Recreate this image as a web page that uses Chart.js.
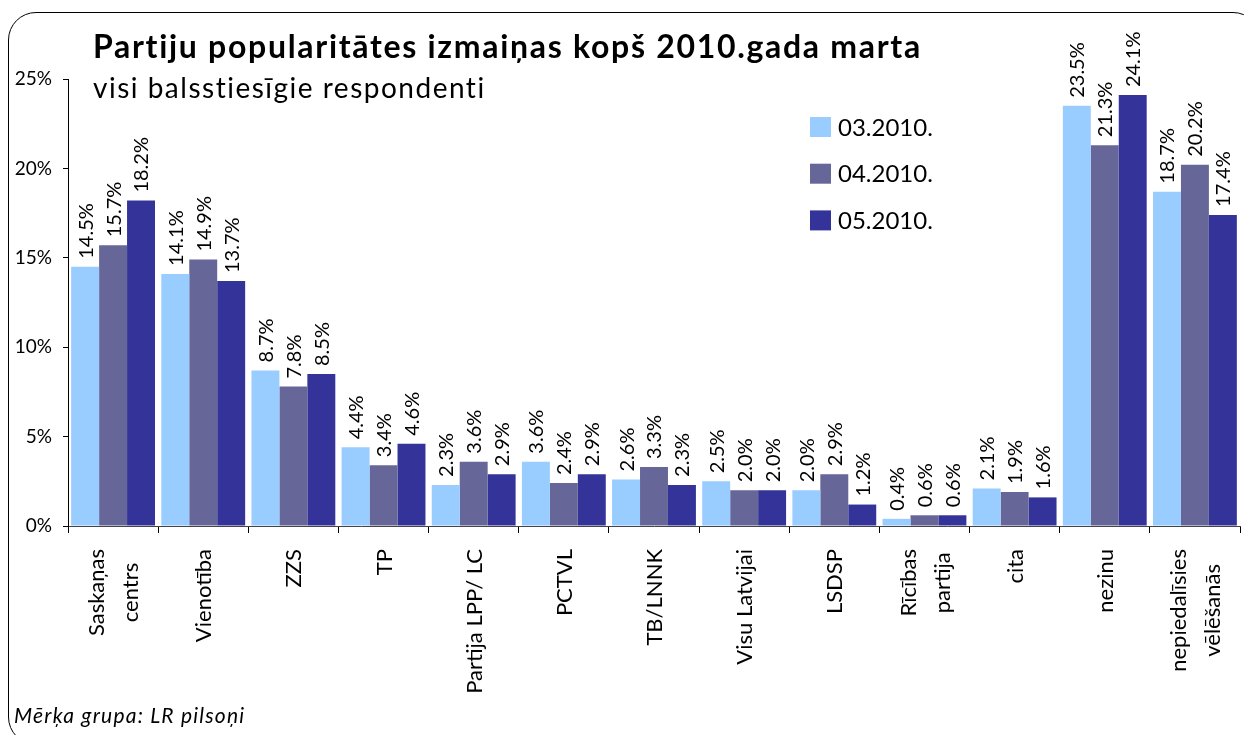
<!DOCTYPE html>
<html>
<head>
<meta charset="utf-8">
<script src="https://cdn.jsdelivr.net/npm/chart.js@4/dist/chart.umd.min.js"></script>
<style>
  html, body { margin: 0; padding: 0; background: #fff; overflow: hidden; }
  #wrap { position: relative; width: 1244px; height: 735px; font-family: Lato, sans-serif; }
  #frame { position: absolute; left: 8px; top: 12px; width: 1253px; height: 733px;
           border: 1.5px solid #000; border-radius: 28px; box-sizing: border-box; }
  .txt { position: absolute; white-space: nowrap; color: #000; line-height: 1; }
  #title { left: 93px; top: 30px; font-size: 32px; font-weight: bold; letter-spacing: 1.7px; }
  #subtitle { left: 93px; top: 73px; font-size: 28px; letter-spacing: 1.5px; }
  #footer { left: 14px; top: 704px; font-size: 21px; font-style: italic; letter-spacing: 1.2px; }
  canvas { position: absolute; left: 0; top: 0; }
</style>
</head>
<body>
<div id="wrap">
  <div id="frame"></div>
  <canvas id="chart" width="1244" height="735"></canvas>
  <div class="txt" id="title">Partiju popularitātes izmaiņas kopš 2010.gada marta</div>
  <div class="txt" id="subtitle">visi balsstiesīgie respondenti</div>
  <div class="txt" id="footer">Mērķa grupa: LR pilsoņi</div>
</div>
<script>
// kategorijas
const categories = [
    ['Saskaņas', 'centrs'], 'Vienotība', 'ZZS', 'TP', 'Partija LPP/ LC', 'PCTVL',
    'TB/LNNK', 'Visu Latvijai', 'LSDSP', ['Rīcības', 'partija'], 'cita', 'nezinu',
    ['nepiedalīsies', 'vēlēšanās']
];
const seriesNames = ['03.2010.', '04.2010.', '05.2010.'];
const mar2010 = [14.5, 14.1, 8.7, 4.4, 2.3, 3.6, 2.6, 2.5, 2.0, 0.4, 2.1, 23.5, 18.7];
const apr2010 = [15.7, 14.9, 7.8, 3.4, 3.6, 2.4, 3.3, 2.0, 2.9, 0.6, 1.9, 21.3, 20.2];
const mai2010 = [18.2, 13.7, 8.5, 4.6, 2.9, 2.9, 2.3, 2.0, 1.2, 0.6, 1.6, 24.1, 17.4];
const yTicks = [0, 5, 10, 15, 20, 25];

const colors = ['#99ccff', '#666699', '#333399'];
const FONT = 'Lato, sans-serif';

// vērtības virs stabiņiem (pagrieztas)
const barLabels = {
    id: 'barLabels',
    afterDatasetsDraw(chart) {
        const ctx = chart.ctx;
        ctx.save();
        ctx.font = '20px ' + FONT;
        ctx.fillStyle = '#000';
        ctx.textAlign = 'left';
        ctx.textBaseline = 'middle';
        chart.data.datasets.forEach((ds, i) => {
            chart.getDatasetMeta(i).data.forEach((bar, j) => {
                ctx.save();
                ctx.translate(bar.x, bar.y - 8);
                ctx.rotate(-Math.PI / 2);
                ctx.fillText(ds.data[j].toFixed(1) + '%', 0, 1);
                ctx.restore();
            });
        });
        ctx.restore();
    }
};

// kategoriju nosaukumi - rindas centrētas ap iedaļu
const catLabels = {
    id: 'catLabels',
    afterDraw(chart) {
        const xs = chart.scales.x;
        const ctx = chart.ctx;
        ctx.save();
        ctx.font = '22px ' + FONT;
        ctx.fillStyle = '#000';
        ctx.textAlign = 'center';
        ctx.textBaseline = 'middle';
        chart.data.labels.forEach((lab, i) => {
            const lines = Array.isArray(lab) ? lab : [lab];
            const w = Math.max(...lines.map(l => ctx.measureText(l).width));
            const cx = xs.getPixelForValue(i);
            lines.forEach((l, k) => {
                const dx = (k - (lines.length - 1) / 2) * 34;
                ctx.save();
                ctx.translate(cx + dx + 1, xs.top + 23 + w / 2);
                ctx.rotate(-Math.PI / 2);
                ctx.fillText(l, 0, 0);
                ctx.restore();
            });
        });
        ctx.restore();
    }
};

// leģenda grafika iekšpusē
const innerLegend = {
    id: 'innerLegend',
    afterDraw(chart) {
        const ctx = chart.ctx;
        ctx.save();
        ctx.font = '24px ' + FONT;
        ctx.textBaseline = 'middle';
        chart.data.datasets.forEach((ds, i) => {
            const y = 127 + i * 46.7;
            ctx.fillStyle = ds.backgroundColor;
            ctx.fillRect(810, y - 10, 21, 20);
            ctx.fillStyle = '#000';
            ctx.fillText(ds.label, 838, y + 1);
        });
        ctx.restore();
    }
};

const ctx = document.getElementById('chart').getContext('2d');
new Chart(ctx, {
    type: 'bar',
    data: {
        labels: categories,
        datasets: [
            { label: seriesNames[0], data: mar2010, backgroundColor: colors[0] },
            { label: seriesNames[1], data: apr2010, backgroundColor: colors[1] },
            { label: seriesNames[2], data: mai2010, backgroundColor: colors[2] }
        ]
    },
    options: {
        responsive: false,
        animation: false,
        devicePixelRatio: 1,
        layout: { padding: { top: 79, right: 4, left: 0, bottom: 0 } },
        datasets: { bar: { categoryPercentage: 0.93, barPercentage: 1.0, borderWidth: 0 } },
        scales: {
            x: {
                afterFit(scale) {
                    scale.height = 209;
                    scale.paddingLeft = 0;
                    scale.paddingRight = 0;
                },
                grid: { display: true, drawOnChartArea: false, offset: true, tickLength: 7, color: '#000' },
                border: { color: '#444', width: 1 },
                ticks: { display: false, autoSkip: false }
            },
            y: {
                min: 0, max: 25,
                afterFit(scale) { scale.width = 68; },
                afterBuildTicks(scale) { scale.ticks = yTicks.map(v => ({ value: v })); },
                grid: { display: true, drawOnChartArea: false, tickLength: 5, color: '#000' },
                border: { color: '#000', width: 1 },
                ticks: {
                    padding: 11, color: '#000',
                    font: { family: FONT, size: 19 },
                    callback: v => v + '%'
                }
            }
        },
        plugins: {
            legend: { display: false },
            tooltip: { enabled: false }
        }
    },
    plugins: [barLabels, catLabels, innerLegend]
});
</script>
</body>
</html>
